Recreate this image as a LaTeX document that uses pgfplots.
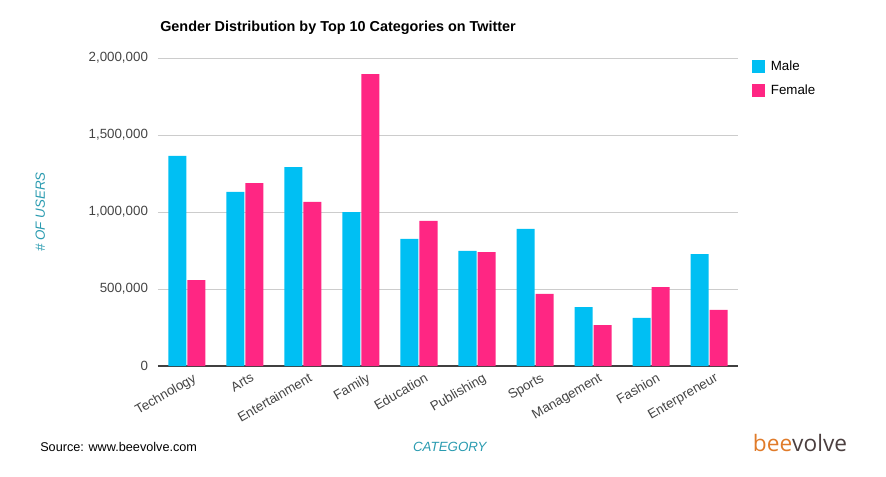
\documentclass[border=0pt]{standalone}
\usepackage{pgfplots}
\pgfplotsset{compat=1.18}
\usepackage{fontspec}
\setmainfont{Liberation Sans}
\newfontfamily\logofont{Open Sans}
\definecolor{male}{HTML}{00BFF3}
\definecolor{female}{HTML}{FF2683}
\definecolor{labelcol}{HTML}{2A9BB0}
\definecolor{ticktxt}{HTML}{444444}
\definecolor{gridcol}{HTML}{CCCCCC}
\definecolor{beeorange}{HTML}{E07B2A}
\definecolor{beegray}{HTML}{4B3F3F}

\begin{document}
\begin{tikzpicture}
\path[use as bounding box] (0,0) rectangle (664.5pt,-357pt);
\node[anchor=west, inner sep=0pt, font=\bfseries\fontsize{10.8}{13}\selectfont] at (120pt,-21pt)
  {Gender Distribution by Top 10 Categories on Twitter};
\begin{axis}[
  at={(118.5pt,-274.5pt)}, anchor=south west,
  scale only axis, width=435pt, height=231pt,
  xmin=-0.5, xmax=9.5, ymin=0, ymax=2000000,
  ybar=0.75pt, bar width=13.5pt,
  separate axis lines,
  axis x line*=bottom, axis y line*=left,
  x axis line style={draw=black!75, line width=0.9pt, -},
  y axis line style={draw=none},
  major tick length=0pt,
  ymajorgrids, major grid style={gridcol, line width=0.6pt},
  ytick={0,500000,1000000,1500000,2000000},
  yticklabels={0,{500,000},{1,000,000},{1,500,000},{2,000,000}},
  scaled y ticks=false,
  yticklabel style={font=\fontsize{10}{12}\selectfont, color=ticktxt, xshift=-4pt},
  xtick={0,...,9},
  xticklabels={Technology,Arts,Entertainment,Family,Education,Publishing,Sports,Management,Fashion,Enterpreneur},
  xticklabel style={rotate=30, anchor=north east, font=\fontsize{10}{12}\selectfont, color=ticktxt, inner sep=1pt, yshift=-5pt, xshift=2pt},
  ylabel={\itshape \# OF USERS},
  ylabel style={at={(axis description cs:-0.203,0.5)}, anchor=center, font=\fontsize{10}{12}\selectfont, color=labelcol},
  xlabel={\itshape CATEGORY},
  xlabel style={at={(axis description cs:0.503,-0.263)}, anchor=center, font=\fontsize{10}{12}\selectfont, color=labelcol},
  legend style={draw=none, fill=none, at={(axis description cs:1.024,1.0)}, anchor=north west,
    inner sep=0pt, font=\fontsize{10}{12}\selectfont, row sep=5pt,
    nodes={inner sep=2pt}},
  legend cell align=left,
  legend image code/.code={\fill[#1] (0pt,-4.875pt) rectangle (9.75pt,4.875pt); \path (12pt,0pt);},
]
\addplot[fill=male, draw=none] coordinates {
  (0,1364000) (1,1130000) (2,1292000) (3,1000000) (4,825000)
  (5,747000) (6,890000) (7,383000) (8,312000) (9,727000)};
\addplot[fill=female, draw=none] coordinates {
  (0,558000) (1,1188000) (2,1065000) (3,1896000) (4,942000)
  (5,740000) (6,468000) (7,266000) (8,513000) (9,364000)};
\legend{Male,Female}
\end{axis}
\node[anchor=west, inner sep=0pt, font=\fontsize{9.5}{11}\selectfont] at (30pt,-335pt) {Source: www.beevolve.com};
\node[anchor=center, font=\logofont\fontsize{17}{20}\selectfont] at (600pt,-332pt)
  {\textcolor{beeorange}{bee}\textcolor{beegray}{volve}};
\end{tikzpicture}
\end{document}
